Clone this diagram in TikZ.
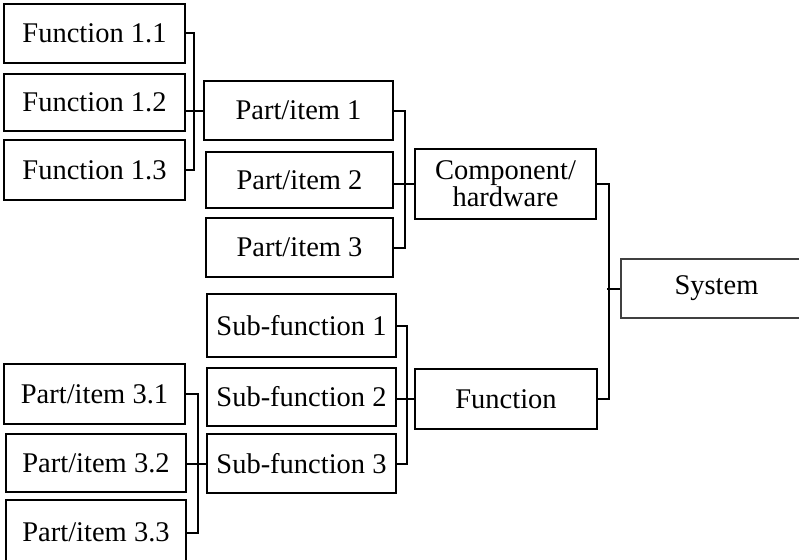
\documentclass[tikz,border=0pt]{standalone}
\usepackage{fontspec}
\setmainfont{Liberation Serif}
\begin{document}
\begin{tikzpicture}[x=1pt,y=1pt,
  box/.style={draw=black, line width=2pt, fill=white, inner sep=0pt, align=center,
    font=\fontsize{28.5}{23}\selectfont},
  thinbox/.style={box, draw=black!75, line width=1.3pt},
  conn/.style={draw=black, line width=2pt}]
\useasboundingbox (0,0) rectangle (799,-559);
\clip (0,0) rectangle (799,-559);
\newcommand\bx[7][box]{\node[#1, minimum width={#5pt-#3pt}, minimum height={#6pt-#4pt}] (#2) at ({(#3+#5)/2},{-(#4+#6)/2}) {#7};}
\bx{f11}{4}{4}{185}{63}{Function 1.1}
\bx{f12}{4}{74}{185}{131}{Function 1.2}
\bx{f13}{4}{140}{185}{200}{Function 1.3}
\bx{p1}{204}{81}{393}{140}{Part/item 1}
\bx{p2}{206}{152}{393}{208}{Part/item 2}
\bx{p3}{206}{218}{393}{277}{Part/item 3}
\bx{comp}{415}{149}{596}{219}{\raisebox{-3pt}{\parbox{170pt}{\centering Component/\\hardware}}}
\bx[thinbox]{sys}{621}{259}{812}{318}{System}
\bx{sub1}{207}{294}{396}{357}{Sub-function 1}
\bx{sub2}{207}{368}{396}{426}{Sub-function 2}
\bx{sub3}{207}{434}{396}{493}{Sub-function 3}
\bx{func}{415}{369}{597}{429}{Function}
\bx{p31}{4}{364}{185}{424}{Part/item 3.1}
\bx{p32}{6}{434}{186}{492}{Part/item 3.2}
\bx{p33}{6}{500}{186}{565}{Part/item 3.3}
% connectors
\draw[conn] (f11.east) -- ++(8,0) |- (f13.east);
\draw[conn] (p1.west -| f12.east) -- (p1.west);
\draw[conn] (p1.east) -- ++(11,0) |- (p3.east);
\draw[conn] (comp.west -| p2.east) -- (comp.west);
\draw[conn] (comp.east) -- ++(12,0) |- (func.east);
\draw[conn] (sys.west) -- ++(-13,0);
\draw[conn] (sub1.east) -- ++(10,0) |- (sub3.east);
\draw[conn] (func.west -| sub2.east) -- (func.west);
\draw[conn] (p31.east) -- ++(12,0) |- (p33.east);
\draw[conn] (sub3.west -| p32.east) -- (sub3.west);
\end{tikzpicture}
\end{document}
